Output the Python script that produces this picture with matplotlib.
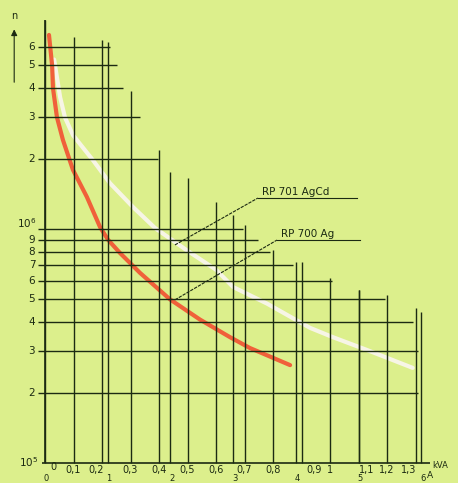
import numpy as np
import matplotlib.pyplot as plt

# Nomogramm: Schaltspiele n über Schaltleistung (kVA bzw. A)
kva_ticks = [0.0, 0.1, 0.2, 0.3, 0.4, 0.5, 0.6, 0.7, 0.8, 0.9, 1.0, 1.1, 1.2, 1.3]
kva_labels = ['0', '0,1', '0,2', '0,3', '0,4', '0,5', '0,6', '0,7', '0,8', '0,9', '1', '1,1', '1,2', '1,3']
kva_top = [7.8e6, 6.6e6, 6.4e6, 3.9e6, 2.18e6, 1.65e6, 1.30e6, 1.04e6, 8.1e5, 7.2e5,
           6.2e5, 5.5e5, 5.2e5, 4.6e5]

amp_ticks = [0, 1, 2, 3, 4, 5, 6]
amp_kva = [0.0, 0.22, 0.44, 0.66, 0.88, 1.10, 1.32]
amp_top = [7.8e6, 6.3e6, 1.75e6, 1.15e6, 7.2e5, 5.5e5, 4.4e5]

n_ticks = [6e6, 5e6, 4e6, 3e6, 2e6, 1e6, 9e5, 8e5, 7e5, 6e5, 5e5, 4e5, 3e5, 2e5]
n_labels = ['6', '5', '4', '3', '2', r'$10^6$', '9', '8', '7', '6', '5', '4', '3', '2']
n_right = [0.228, 0.253, 0.274, 0.333, 0.396, 0.695, 0.747, 0.789, 0.870, 1.007,
           1.193, 1.291, 1.309, 1.309]

# RP 700 Ag (rot)
ag_kva = [0.014, 0.025, 0.028, 0.042, 0.063, 0.098, 0.147, 0.193, 0.221, 0.263,
          0.333, 0.439, 0.544, 0.649, 0.719, 0.86]
ag_n = [6.75e6, 5.0e6, 4.0e6, 3.0e6, 2.4e6, 1.79e6, 1.37e6, 1.02e6, 9.0e5, 7.9e5,
        6.5e5, 5.0e5, 4.1e5, 3.45e5, 3.1e5, 2.62e5]

# RP 701 AgCd (weiß)
agcd_kva = [0.032, 0.053, 0.070, 0.098, 0.168, 0.228, 0.309, 0.386, 0.498, 0.60,
            0.66, 0.779, 0.93, 1.01, 1.13, 1.29]
agcd_n = [5.3e6, 3.66e6, 3.0e6, 2.52e6, 1.97e6, 1.57e6, 1.24e6, 1.01e6, 8.1e5, 6.7e5,
          5.65e5, 4.8e5, 3.78e5, 3.45e5, 3.04e5, 2.55e5]

bg = '#dcef8c'
ink = '#1c2a12'

fig = plt.figure(figsize=(4.58, 4.83), dpi=100, facecolor=bg)
ax = fig.add_axes([0, 0, 1, 1], facecolor=bg)
ax.set_yscale('log')
ax.set_xlim(-45 / 285, 413 / 285)
ax.set_ylim(10 ** (5 - 20 / 234), 10 ** (5 + 463 / 234))
ax.axis('off')

# Kurven
ax.plot(agcd_kva, agcd_n, color='#f7f5e6', lw=3, solid_capstyle='round', zorder=3)
ax.plot(ag_kva, ag_n, color='#f0603a', lw=3, solid_capstyle='round', zorder=4)

# Treppen-Raster
ax.vlines(kva_ticks, 1e5, kva_top, color=ink, lw=1.0, zorder=5)
ax.vlines(amp_kva[1:], 1e5, amp_top[1:], color=ink, lw=1.0, zorder=5)
ax.hlines(n_ticks, -0.025, n_right, color=ink, lw=1.0, zorder=5)
ax.hlines(1e5, -0.01, 1.35, color=ink, lw=1.2, zorder=5)
ax.vlines(0, 1e5, kva_top[0], color=ink, lw=1.2, zorder=5)

# Beschriftung y
for v, lab in zip(n_ticks, n_labels):
    if lab.startswith('$'):
        ax.annotate(lab, (0, v), xytext=(-6, -1), textcoords='offset points',
                    ha='right', va='bottom', fontsize=7.5, color=ink)
    else:
        ax.annotate(lab, (0, v), xytext=(-7, 0), textcoords='offset points',
                    ha='right', va='center', fontsize=7.5, color=ink)
ax.annotate(r'$10^5$', (0, 1e5), xytext=(-5, 1), textcoords='offset points',
            ha='right', va='center', fontsize=7.5, color=ink)

# Beschriftung x (kVA)
kva_dx = {0: 6, 2: -4, 9: 9, 11: 6, 13: -5}
for i, (k, lab) in enumerate(zip(kva_ticks, kva_labels)):
    dy = -3 if i == 0 else -5
    ax.annotate(lab, (k, 1e5), xytext=(kva_dx.get(i, 0), dy), textcoords='offset points',
                ha='center', va='center', fontsize=7, color=ink)
# Beschriftung x (A)
for a, k in zip(amp_ticks, amp_kva):
    ax.annotate(str(a), (k, 1e5), xytext=(1, -11), textcoords='offset points',
                ha='center', va='center', fontsize=6, color=ink)
ax.annotate('A', (amp_kva[-1], 1e5), xytext=(4, -9), textcoords='offset points',
            ha='left', va='center', fontsize=6.5, color=ink)
ax.annotate('kVA', (1.35, 1e5), xytext=(2, -2), textcoords='offset points',
            ha='left', va='center', fontsize=6, color=ink)

# n-Pfeil
ax.annotate('', xy=(0.031, 0.945), xytext=(0.031, 0.824), xycoords='axes fraction',
            arrowprops=dict(arrowstyle='-|>', color=ink, lw=0.8, mutation_scale=9))
ax.text(0.031, 0.966, 'n', transform=ax.transAxes, ha='center', va='center',
        fontsize=7, color=ink)

# Bezugslinien
leaders = [('RP 701 AgCd', (0.456, 8.55e5), (0.747, 1.356e6), 1.095),
           ('RP 700 Ag', (0.456, 4.98e5), (0.814, 8.97e5), 1.105)]
for text, tip, knee, xend in leaders:
    ax.plot([tip[0], knee[0]], [tip[1], knee[1]], color=ink, lw=0.8,
            ls=(0, (3, 1)), zorder=6)
    ax.plot([knee[0], xend], [knee[1], knee[1]], color=ink, lw=0.8, zorder=6)
    ax.annotate(text, (knee[0], knee[1]), xytext=(3, 1), textcoords='offset points',
                ha='left', va='bottom', fontsize=7.5, color=ink)

fig.savefig('out.png', dpi=100, facecolor=bg)
